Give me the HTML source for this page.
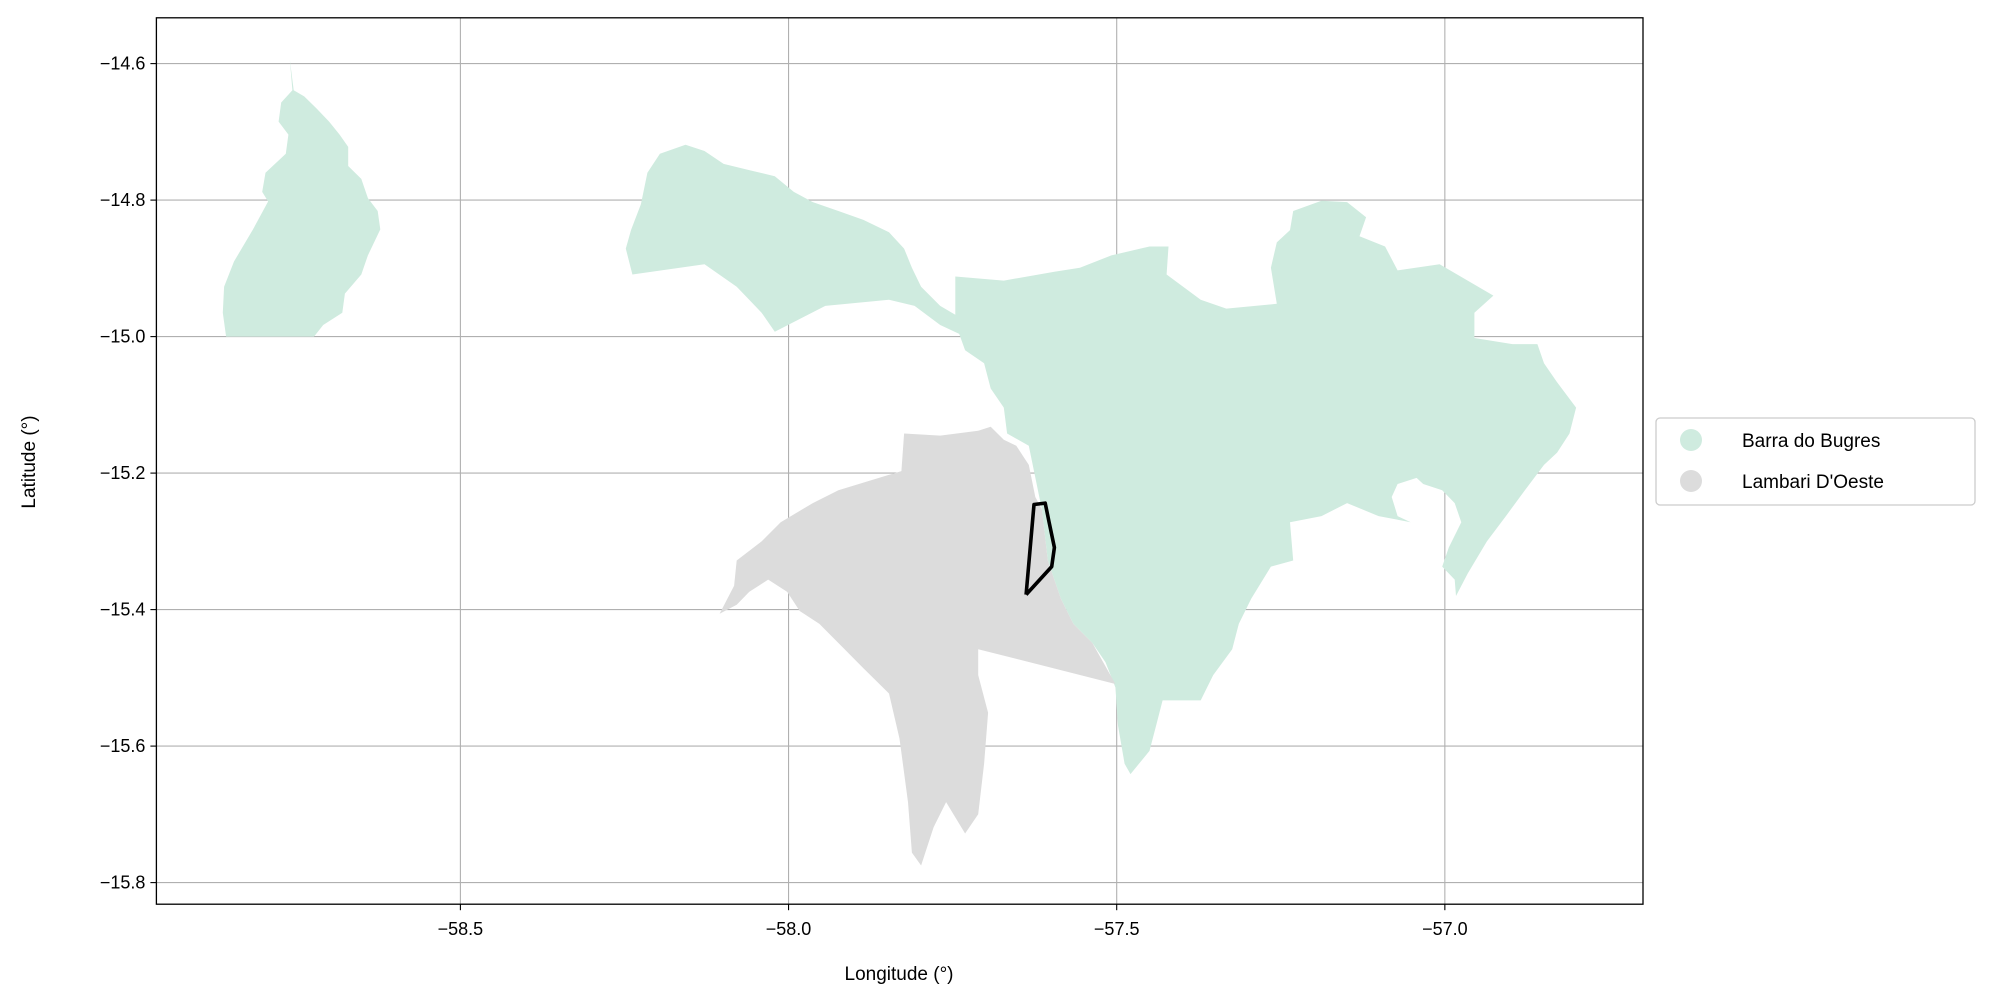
<!DOCTYPE html>
<html><head><meta charset="utf-8"><style>
html,body{margin:0;padding:0;background:#fff;}
svg{display:block;font-family:"Liberation Sans","DejaVu Sans",sans-serif;}
</style></head><body>
<svg id="chart" width="1994" height="1006" viewBox="0 0 1994 1006" xmlns="http://www.w3.org/2000/svg">
<g id="grid"></g>
<g id="shapes"></g>
<g id="axes"></g>
<text x="899" y="980" font-size="19" text-anchor="middle">Longitude (°)</text>
<text x="0" y="0" font-size="19" text-anchor="middle" transform="translate(35,462) rotate(-90)">Latitude (°)</text>
<g>
<rect x="1656" y="418" width="319" height="87" rx="4" fill="#fff" stroke="#cccccc" stroke-width="1.3"/>
<g>
<circle cx="1691" cy="440" r="11" fill="#cfebdf"/>
<text x="1742" y="447" font-size="19">Barra do Bugres</text></g>
<g>
<circle cx="1691" cy="481" r="11" fill="#dcdcdc"/>
<text x="1742" y="488" font-size="19">Lambari D'Oeste</text></g>
</g>
</svg>
<script>
const xTicks=[-58.5,-58.0,-57.5,-57.0];
const yTicks=[-14.6,-14.8,-15.0,-15.2,-15.4,-15.6,-15.8];
const barraNorthLon=[-58.760,-58.756,-58.773,-58.777,-58.762,-58.766,-58.797,-58.802,-58.793,-58.816,-58.845,-58.860,-58.862,-58.857,-58.723,-58.709,-58.680,-58.676,-58.651,-58.641,-58.622,-58.626,-58.641,-58.651,-58.671,-58.671,-58.684,-58.700,-58.719,-58.738,-58.754];
const barraNorthLat=[-14.594,-14.639,-14.657,-14.685,-14.704,-14.732,-14.760,-14.788,-14.802,-14.843,-14.890,-14.927,-14.965,-15.0,-15.0,-14.983,-14.965,-14.937,-14.909,-14.881,-14.843,-14.816,-14.797,-14.769,-14.750,-14.722,-14.704,-14.685,-14.666,-14.648,-14.639];
const barraMainLon=[-58.238,-58.248,-58.240,-58.225,-58.215,-58.196,-58.157,-58.128,-58.099,-58.060,-58.021,-57.992,-57.963,-57.924,-57.886,-57.847,-57.824,-57.812,-57.798,-57.769,-57.746,-57.746,-57.672,-57.595,-57.556,-57.508,-57.450,-57.421,-57.424,-57.372,-57.333,-57.256,-57.265,-57.256,-57.236,-57.231,-57.188,-57.149,-57.120,-57.130,-57.091,-57.072,-57.008,-56.926,-56.955,-56.955,-56.897,-56.859,-56.849,-56.829,-56.800,-56.810,-56.829,-56.849,-56.878,-56.907,-56.936,-56.965,-56.983,-56.985,-57.004,-56.994,-56.975,-56.985,-57.004,-57.033,-57.043,-57.072,-57.081,-57.072,-57.052,-57.101,-57.149,-57.188,-57.236,-57.231,-57.265,-57.295,-57.314,-57.324,-57.353,-57.372,-57.430,-57.440,-57.450,-57.479,-57.488,-57.498,-57.502,-57.517,-57.537,-57.566,-57.585,-57.605,-57.614,-57.618,-57.634,-57.667,-57.672,-57.692,-57.702,-57.731,-57.740,-57.769,-57.808,-57.847,-57.944,-58.021,-58.041,-58.060,-58.079,-58.128];
const barraMainLat=[-14.909,-14.871,-14.844,-14.806,-14.760,-14.732,-14.719,-14.728,-14.747,-14.756,-14.765,-14.788,-14.803,-14.816,-14.829,-14.847,-14.871,-14.899,-14.927,-14.955,-14.968,-14.912,-14.918,-14.905,-14.899,-14.881,-14.868,-14.868,-14.909,-14.946,-14.959,-14.952,-14.899,-14.862,-14.844,-14.816,-14.801,-14.803,-14.825,-14.853,-14.868,-14.903,-14.894,-14.940,-14.965,-15.002,-15.011,-15.011,-15.039,-15.067,-15.104,-15.142,-15.170,-15.188,-15.225,-15.263,-15.300,-15.347,-15.380,-15.356,-15.337,-15.309,-15.272,-15.244,-15.225,-15.216,-15.207,-15.216,-15.235,-15.263,-15.272,-15.263,-15.244,-15.263,-15.272,-15.328,-15.337,-15.384,-15.421,-15.458,-15.496,-15.533,-15.533,-15.570,-15.607,-15.641,-15.626,-15.570,-15.514,-15.477,-15.449,-15.421,-15.384,-15.328,-15.253,-15.235,-15.160,-15.142,-15.104,-15.076,-15.039,-15.020,-14.996,-14.983,-14.955,-14.946,-14.955,-14.993,-14.965,-14.946,-14.927,-14.894];
const lambariLon=[-58.105,-58.083,-58.079,-58.041,-58.012,-57.963,-57.924,-57.828,-57.824,-57.769,-57.711,-57.692,-57.672,-57.653,-57.634,-57.624,-57.614,-57.605,-57.585,-57.566,-57.537,-57.502,-57.711,-57.711,-57.696,-57.702,-57.711,-57.731,-57.760,-57.779,-57.798,-57.812,-57.818,-57.831,-57.847,-57.886,-57.924,-57.953,-57.983,-58.002,-58.031,-58.060,-58.079];
const lambariLat=[-15.406,-15.365,-15.328,-15.300,-15.272,-15.244,-15.225,-15.197,-15.142,-15.145,-15.138,-15.132,-15.151,-15.160,-15.188,-15.235,-15.253,-15.328,-15.384,-15.421,-15.449,-15.509,-15.458,-15.496,-15.551,-15.626,-15.700,-15.728,-15.682,-15.719,-15.775,-15.756,-15.682,-15.589,-15.523,-15.486,-15.449,-15.421,-15.402,-15.374,-15.356,-15.374,-15.393];
const siteLon=[-57.638,-57.626,-57.609,-57.603,-57.595,-57.599,-57.638];
const siteLat=[-15.378,-15.246,-15.244,-15.272,-15.309,-15.337,-15.378];

const L=156.4,R=1643,T=17.8,B=904.2;
const xs=v=>460.4+(v+58.5)*656.3;
const ys=v=>63.6+(-14.6-v)*682.5;
const NS='http://www.w3.org/2000/svg';
function mk(tag,parent,attrs){const e=document.createElementNS(NS,tag);for(const k in attrs)e.setAttribute(k,attrs[k]);parent.appendChild(e);return e;}
const grid=document.getElementById('grid'),shapes=document.getElementById('shapes'),axes=document.getElementById('axes');
xTicks.forEach(t=>{
  const l=mk('line',grid,{x1:xs(t),x2:xs(t),y1:T,y2:B,stroke:'#b0b0b0','stroke-width':1.1});
  
  
  const tk=mk('line',axes,{x1:xs(t),x2:xs(t),y1:B,y2:B+6,stroke:'#000','stroke-width':1.1});
  
  
  const tx=mk('text',axes,{x:xs(t),y:B+31,'font-size':18,'text-anchor':'middle'});
  tx.textContent='\u2212'+Math.abs(t).toFixed(1);
  
  
});
yTicks.forEach(t=>{
  const l=mk('line',grid,{x1:L,x2:R,y1:ys(t),y2:ys(t),stroke:'#b0b0b0','stroke-width':1.1});
  
  
  const tk=mk('line',axes,{x1:L-6,x2:L,y1:ys(t),y2:ys(t),stroke:'#000','stroke-width':1.1});
  
  
  const tx=mk('text',axes,{x:L-11,y:ys(t)+6,'font-size':18,'text-anchor':'end'});
  tx.textContent='\u2212'+Math.abs(t).toFixed(1);
  
  
});
const fr=mk('rect',axes,{x:L,y:T,width:R-L,height:B-T,fill:'none',stroke:'#000','stroke-width':1.3});


function pts(lo,la){return lo.map((v,i)=>xs(v).toFixed(1)+','+ys(la[i]).toFixed(1)).join(' ');}
const p1=mk('polygon',shapes,{points:pts(barraNorthLon,barraNorthLat),fill:'#cfebdf'});


const p2=mk('polygon',shapes,{points:pts(barraMainLon,barraMainLat),fill:'#cfebdf'});


const p3=mk('polygon',shapes,{points:pts(lambariLon,lambariLat),fill:'#dcdcdc'});


const p4=mk('polyline',shapes,{points:pts(siteLon,siteLat),fill:'none',stroke:'#000','stroke-width':3.6,'stroke-linejoin':'round'});


</script>
</body></html>
